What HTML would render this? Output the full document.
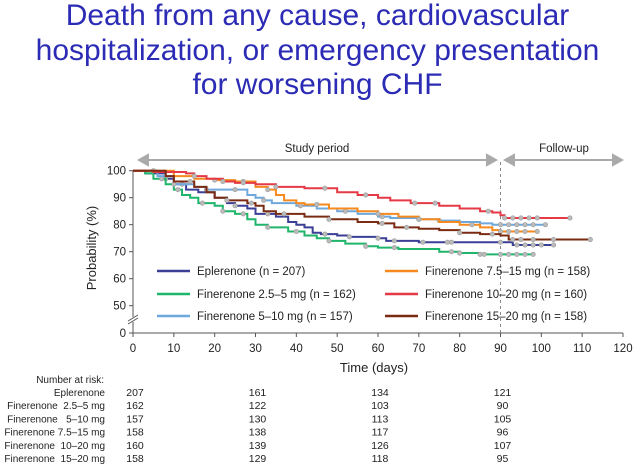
<!DOCTYPE html>
<html><head><meta charset="utf-8"><style>
body{margin:0;background:#fff;width:635px;height:467px;overflow:hidden;font-family:"Liberation Sans",sans-serif}
.t{position:absolute;left:0;width:635px;text-align:center;color:#2b2bb5;font-size:30px;line-height:34.5px}
</style></head><body>
<div class="t" style="top:-1px">Death from any cause, cardiovascular<br>hospitalization, or emergency presentation<br>for worsening CHF</div>
<svg id="c" width="635" height="467" style="position:absolute;left:0;top:0" font-family="Liberation Sans, sans-serif"></svg>
<script>
const tickX=[0,10,20,30,40,50,60,70,80,90,100,110,120];
const tickY=[50,60,70,80,90,100];
const seriesNames=["Eplerenone (n = 207)","Finerenone 2.5–5 mg (n = 162)","Finerenone 5–10 mg (n = 157)","Finerenone 7.5–15 mg (n = 158)","Finerenone 10–20 mg (n = 160)","Finerenone 15–20 mg (n = 158)"];
const colors=["#3b3f96","#1fb56a","#6fa8dc","#f68a1e","#e63946","#7a2b12"];
const tEpl=[0,3,8,10,13,16,20,23,25,28,30,35,38,40,42,44,46,50,53,60,62,70,90,93,103];
const vEpl=[100,99,97,95,93,92,90,88,87,86,84,83,81,80,79,77,76.5,76,75.5,75,74,73.5,73.5,72.5,72.5];
const tF25=[0,3,5,8,10,12,14,16,20,22,25,28,30,33,38,42,45,48,52,57,60,65,75,80,85,98];
const vF25=[100,99,97,95,93,91,90,88,87,85,84,82,80,79,77.5,76,75,74,73,72,71.5,71,70,69.5,69,69];
const tF5=[0,6,10,15,18,25,28,30,32,34,40,45,50,55,60,63,70,75,80,85,88,101];
const vF5=[100,98,95,94,93,93,91,90,89,88,87,86,85,84,83,82.5,82,81.5,81,80.5,80,80];
const tF75=[0,10,15,20,25,30,33,35,37,40,42,48,55,60,65,70,75,80,85,88,90,99];
const vF75=[100,98,97,96.5,96,94,93,91,89,88,87.5,86,85,84,83,82,81,80,79,78,77.5,77.5];
const tF10=[0,5,13,15,18,22,25,30,35,42,50,55,60,63,68,75,80,85,88,90,91,107];
const vF10=[100,99.5,99,98,97,96,95.5,95,94,93.5,92,91,90,89,88,87,86,85,84.5,83.5,82.5,82.5];
const tF15=[0,8,10,15,18,20,23,28,30,32,35,42,48,55,60,64,70,75,80,85,90,92,112];
const vF15=[100,98,96,94,92,90,89,88,87,85,84,83,82,81,80.5,79,78.5,78,77,76.5,76,74.5,74.5];
const censEpl=[8,12,25,33,47,53,60,64,71,77,78,90,94,96,98,100,103];
const censF25=[7,11,17,22,27,33,40,48,57,64,78,80,85,86,90,92,94,96,98];
const censF5=[10,18,25,32,41,52,61,70,75,90,92,94,96,98,101];
const censF75=[5,20,27,33,45,60,70,83,90,92,94,96,99];
const censF10=[15,22,27,35,47,57,69,74,87,91,93,95,97,99,107];
const censF15=[14,23,29,37,48,61,67,80,88,93,95,98,103,112];
const allT=[tEpl,tF25,tF5,tF75,tF10,tF15],allV=[vEpl,vF25,vF5,vF75,vF10,vF15],allC=[censEpl,censF25,censF5,censF75,censF10,censF15];
const riskLabels=["Eplerenone","Finerenone  2.5–5 mg","Finerenone   5–10 mg","Finerenone 7.5–15 mg","Finerenone  10–20 mg","Finerenone  15–20 mg"];
const riskDays=[0,30,60,90];
const riskVals=[[207,161,134,121],[162,122,103,90],[157,130,113,105],[158,138,117,96],[160,139,126,107],[158,129,118,95]];

const X=d=>133+d*(490/120);
const Y=v=>v>=50?305.7-(v-50)*2.7:332.7;
const svg=document.getElementById('c');const NS="http://www.w3.org/2000/svg";
function mk(tag,at,txt){const e=document.createElementNS(NS,tag);for(const k in at)e.setAttribute(k,at[k]);if(txt!==undefined)e.textContent=txt;svg.appendChild(e);return e;}
let e;
e=mk('line',{x1:133,y1:333,x2:623,y2:333,stroke:'#555','stroke-width':1});


e=mk('path',{d:'M133 333V322M133 317V170',stroke:'#555',fill:'none'});


e=mk('path',{d:'M128 324L138 318M128 321L138 315',stroke:'#555'});


tickX.forEach(t=>{mk('line',{x1:X(t),y1:333,x2:X(t),y2:337,stroke:'#555'});
e=mk('text',{x:X(t),y:352,'font-size':11.5,'text-anchor':'middle',fill:'#222'},t);

});
tickY.forEach(t=>{mk('line',{x1:129,y1:Y(t),x2:133,y2:Y(t),stroke:'#555'});
e=mk('text',{x:126,y:Y(t)+4,'font-size':11.5,'text-anchor':'end',fill:'#222'},t);

});
mk('line',{x1:129,y1:333,x2:133,y2:333,stroke:'#555'});
e=mk('text',{x:126,y:337,'font-size':11.5,'text-anchor':'end',fill:'#222'},'0');


e=mk('text',{x:0,y:0,'font-size':13,'text-anchor':'middle',fill:'#222',transform:'translate(96,248) rotate(-90)'},'Probability (%)');


e=mk('text',{x:374,y:372,'font-size':13,'text-anchor':'middle',fill:'#222'},'Time (days)');


e=mk('path',{d:'M139 160H496M139 160l9-5v10zM496 160l-9-5v10z',stroke:'#aaa','stroke-width':2,fill:'#aaa'});


e=mk('path',{d:'M505 160H622M505 160l9-5v10zM622 160l-9-5v10z',stroke:'#aaa','stroke-width':2,fill:'#aaa'});


e=mk('text',{x:317,y:152,'font-size':11.5,'text-anchor':'middle',fill:'#222'},'Study period');


e=mk('text',{x:564,y:152,'font-size':11.5,'text-anchor':'middle',fill:'#222'},'Follow-up');


e=mk('line',{x1:X(90),y1:162,x2:X(90),y2:333,stroke:'#888','stroke-dasharray':'3,3'});


function valAt(ts,vs,t){let v=vs[0];for(let i=0;i<ts.length;i++)if(ts[i]<=t)v=vs[i];return v;}
allT.forEach((ts,s)=>{const vs=allV[s];let d='M'+X(ts[0])+' '+Y(vs[0]);
for(let i=1;i<ts.length;i++){d+='H'+X(ts[i])+'V'+Y(vs[i]);}
e=mk('path',{d:d,stroke:colors[s],'stroke-width':2,fill:'none'});


allC[s].forEach(t=>{e=mk('circle',{cx:X(t),cy:Y(valAt(ts,vs,t)),r:2.2,fill:'#bbb',stroke:'#999','stroke-width':0.6});

});});
const lg=[[157,271],[157,294],[157,316],[385,271],[385,294],[385,316]];
seriesNames.forEach((n,i)=>{const [lx,ly]=lg[i];
e=mk('line',{x1:lx,y1:ly,x2:lx+33,y2:ly,stroke:colors[i],'stroke-width':2.5});


e=mk('text',{x:lx+40,y:ly+4,'font-size':11.5,fill:'#222'},n);

});
e=mk('text',{x:104,y:383,'font-size':10,'text-anchor':'end',fill:'#222'},'Number at risk:');


riskLabels.forEach((l,r)=>{const y=396+r*13.2;
e=mk('text',{x:105,y:y,'font-size':10,'text-anchor':'end',fill:'#222'},l);
e.style.whiteSpace='pre';


riskDays.forEach((d,c)=>{e=mk('text',{x:X(d)+2,y:y,'font-size':10.5,'text-anchor':'middle',fill:'#222'},riskVals[r][c]);

});});
</script>
</body></html>
